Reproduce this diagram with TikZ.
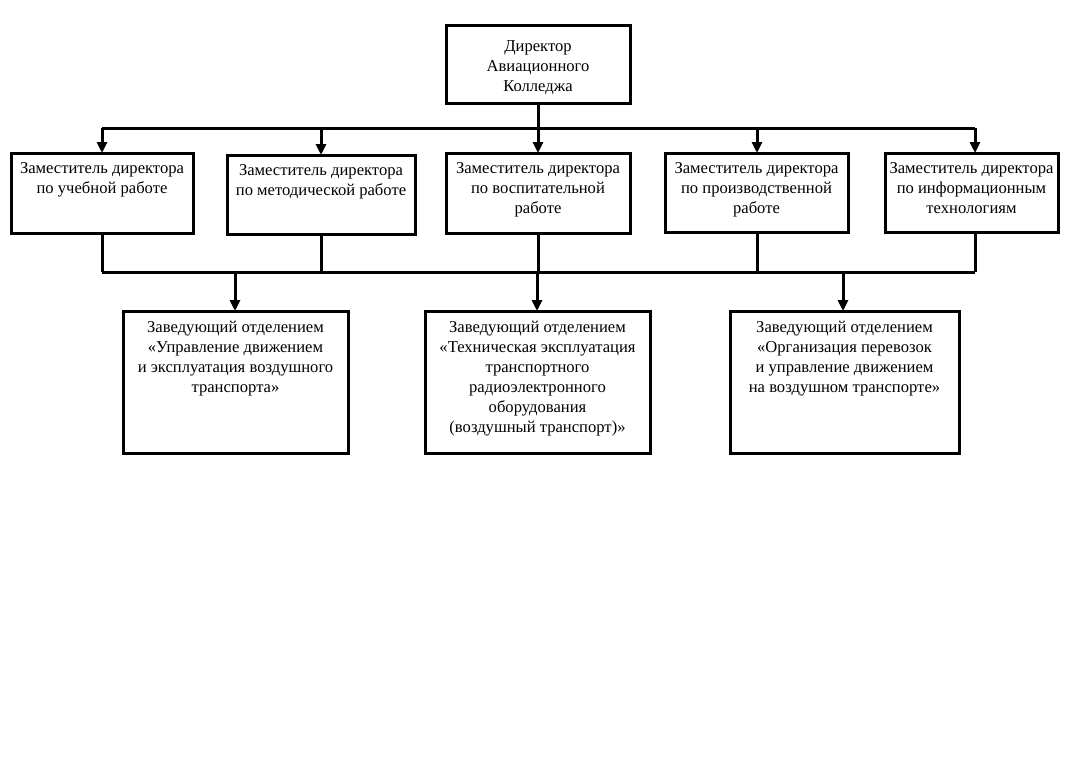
\documentclass[tikz,border=0pt]{standalone}
\usepackage{fontspec}
\setmainfont{Liberation Serif}
\usetikzlibrary{arrows.meta}
\begin{document}
\begin{tikzpicture}[x=1pt,y=-1pt,
  box/.style={draw, line width=3pt, rectangle, inner sep=0pt, outer sep=0pt},
  txt/.style={anchor=north, inner sep=0pt, align=center,
    font=\fontsize{16.6}{20}\selectfont, execute at begin node=\strut},
  link/.style={line width=3pt},
  arr/.style={line width=3pt, -{Triangle[length=11pt,width=10pt]}}]
\useasboundingbox (0,0) rectangle (1069,756);
\fill[white] (0,0) rectangle (1069,756);

% director
\node[box, minimum width=184pt, minimum height=78pt] (dir) at (538,64) {};
\node[txt] (dirt) at ([yshift=-15pt]dir.north) {Директор\\ Авиационного\\ Колледжа};

% deputies
\node[box, minimum width=182pt, minimum height=80pt] (z1) at (102,193) {};
\node[box, minimum width=188pt, minimum height=79pt] (z2) at (321,194.5) {};
\node[box, minimum width=184pt, minimum height=80pt] (z3) at (538,193) {};
\node[box, minimum width=183pt, minimum height=79pt] (z4) at (756.5,192.5) {};
\node[box, minimum width=173pt, minimum height=79pt] (z5) at (971.5,192.5) {};
\node[txt] (z1t) at ([yshift=-9.5pt]z1.north) {Заместитель директора\\ по учебной работе};
\node[txt] (z2t) at ([yshift=-9.5pt]z2.north) {Заместитель директора\\ по методической работе};
\node[txt] (z3t) at ([yshift=-9.5pt]z3.north) {Заместитель директора\\ по воспитательной\\ работе};
\node[txt] (z4t) at ([yshift=-9.5pt]z4.north) {Заместитель директора\\ по производственной\\ работе};
\node[txt] (z5t) at ([yshift=-9.5pt]z5.north) {Заместитель директора\\ по информационным\\ технологиям};

% department heads
\node[box, minimum width=225pt, minimum height=142pt] (o1) at (235.5,382) {};
\node[box, minimum width=225pt, minimum height=142pt] (o2) at (537.5,382) {};
\node[box, minimum width=229pt, minimum height=142pt] (o3) at (844.5,382) {};
\node[txt] (o1t) at ([yshift=-9.5pt]o1.north) {Заведующий отделением\\ «Управление движением\\ и эксплуатация воздушного\\ транспорта»};
\node[txt] (o2t) at ([yshift=-9.5pt]o2.north) {Заведующий отделением\\ «Техническая эксплуатация\\ транспортного\\ радиоэлектронного\\ оборудования\\ (воздушный транспорт)»};
\node[txt] (o3t) at ([yshift=-9.5pt]o3.north) {Заведующий отделением\\ «Организация перевозок\\ и управление движением\\ на воздушном транспорте»};

% upper bus
\coordinate (t1) at (102,128);
\coordinate (t2) at (321,128);
\coordinate (t3) at (538,128);
\coordinate (t4) at (757,128);
\coordinate (t5) at (975,128);
\draw[link] (dir.south) -- (dir.south |- t3);
\draw[link] (t1) -- (t5);
\draw[arr] (t1) -- (t1 |- z1.north);
\draw[arr] (t2) -- (t2 |- z2.north);
\draw[arr] (t3) -- (t3 |- z3.north);
\draw[arr] (t4) -- (t4 |- z4.north);
\draw[arr] (t5) -- (t5 |- z5.north);

% lower bus
\coordinate (b1) at (102,272);
\coordinate (b2) at (321,272);
\coordinate (b3) at (538,272);
\coordinate (b4) at (757,272);
\coordinate (b5) at (975,272);
\draw[link] (b1 |- z1.south) -- (b1);
\draw[link] (b2 |- z2.south) -- (b2);
\draw[link] (b3 |- z3.south) -- (b3);
\draw[link] (b4 |- z4.south) -- (b4);
\draw[link] (b5 |- z5.south) -- (b5);
\draw[link] (b1) -- (b5);
\coordinate (c1) at (235,272);
\coordinate (c2) at (537,272);
\coordinate (c3) at (843,272);
\draw[arr] (c1) -- (c1 |- o1.north);
\draw[arr] (c2) -- (c2 |- o2.north);
\draw[arr] (c3) -- (c3 |- o3.north);
\end{tikzpicture}
\end{document}
